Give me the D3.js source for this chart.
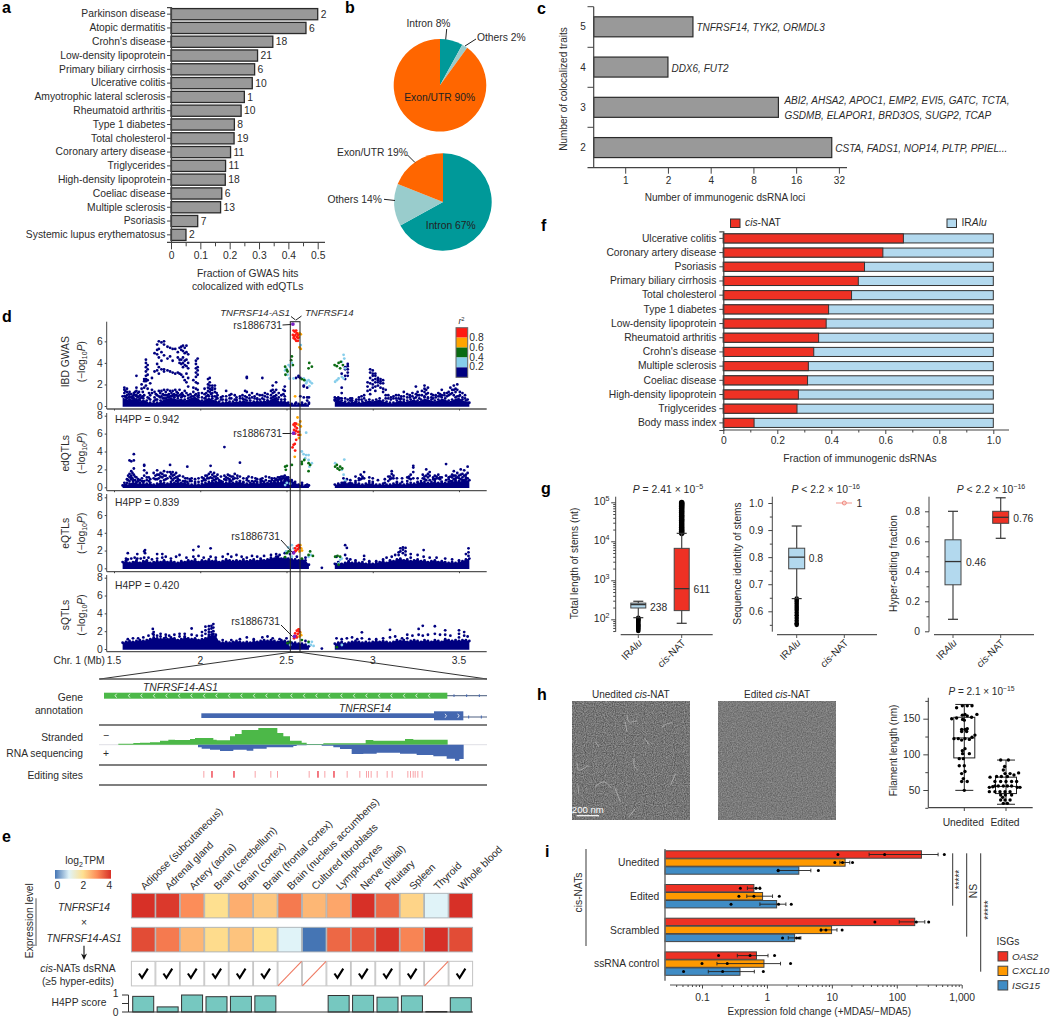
<!DOCTYPE html>
<html>
<head>
<meta charset="utf-8">
<script src="https://cdn.jsdelivr.net/npm/d3@7"></script>
<style>
  html, body { margin: 0; padding: 0; background: #fff; }
  svg { display: block; }
</style>
</head>
<body>
<svg id="chart" width="1050" height="1017" xmlns="http://www.w3.org/2000/svg"></svg>
<script>
// ── panel a ──
const aTraits = ['Parkinson disease', 'Atopic dermatitis', "Crohn's disease", 'Low-density lipoprotein',
  'Primary biliary cirrhosis', 'Ulcerative colitis', 'Amyotrophic lateral sclerosis', 'Rheumatoid arthritis',
  'Type 1 diabetes', 'Total cholesterol', 'Coronary artery disease', 'Triglycerides', 'High-density lipoprotein',
  'Coeliac disease', 'Multiple sclerosis', 'Psoriasis', 'Systemic lupus erythematosus'];
const aFractions = [0.5, 0.46, 0.347, 0.295, 0.285, 0.277, 0.25, 0.239, 0.216, 0.215, 0.203, 0.186, 0.185, 0.173, 0.169, 0.091, 0.051];
const aCounts = [2, 6, 18, 21, 6, 10, 1, 10, 8, 19, 11, 11, 18, 6, 13, 7, 2];

// ── panel b ──
const pieTopValues = [8, 2, 90];
const pieBottomValues = [67, 14, 19];

// ── panel c ──
const cTraits = [5, 4, 3, 2];
const cLoci = [3, 2, 12, 28.5];
const cGenes = [['TNFRSF14, TYK2, ORMDL3'], ['DDX6, FUT2'],
  ['ABI2, AHSA2, APOC1, EMP2, EVI5, GATC, TCTA,', 'GSDMB, ELAPOR1, BRD3OS, SUGP2, TCAP'],
  ['CSTA, FADS1, NOP14, PLTP, PPIEL...']];
const cTicks = [1, 2, 4, 8, 16, 32];

// ── panel f ──
const fTraits = ['Ulcerative colitis', 'Coronary artery disease', 'Psoriasis', 'Primary biliary cirrhosis', 'Total cholesterol',
  'Type 1 diabetes', 'Low-density lipoprotein', 'Rheumatoid arthritis', "Crohn's disease", 'Multiple sclerosis',
  'Coeliac disease', 'High-density lipoprotein', 'Triglycerides', 'Body mass index'];
const fCisNat = [0.667, 0.591, 0.523, 0.5, 0.475, 0.39, 0.381, 0.353, 0.335, 0.315, 0.312, 0.278, 0.273, 0.114];

// ── panel d: bands are the top of the dense cloud, one reading every 0.02 Mb,
//    navy columns are [Mb, [-log10P, ...]], coloured points are [Mb, -log10P, r2 bin] ──
const r2Bins = ['#7b22c4', '#ff1a12', '#ffa500', '#0a6b12', '#87ceeb', '#000080'];
const r2Labels = ['0.8', '0.6', '0.4', '0.2'];
const bandLeftStart = 1.55;
const bandRightStart = 2.78;

const gwasBandLeft = [.9,.8,.6,.7,.9,.5,.7,.5,.3,.4,.3,.5,.7,.8,.9,.8,.7,.8,.6,.7,.9,1,.8,.5,.7,.9,.7,.6,.4,.3,.5,.4,.4,.5,.4,.6,.5,.5,.4,.6,.4,.6,.5,.7,.9,.6,.4,.6,.3,.2,.2,.2,.3,.2,.2];
const gwasBandRight = [.5,.6,.5,.4,.3,.5,.4,.3,.4,.5,.6,.5,.6,.7,.5,.4,.3,.3,.5,.6,.4,.5,.6,.7,.5,.6,.8,.7,.6,.5,.6,.8,.7,.5,.6,.8,.9,.6,.5,.3];
const gwasNavy = [[1.56,[1.7,1.5,1.2,.9]],[1.575,[1.6,1.3,1,.7]],[1.59,[1.3,.9,.6]],[1.6,[1.1,.8,.5]],[1.615,[1.2,1,.7]],[1.63,[2.8,1.7,1.4,1]],[1.645,[1.3,.9,.6]],[1.66,[2,1.6,.8]],[1.675,[2.5,2.3,1.7,1]],[1.685,[4.3,4,3.6,3.2,2.8,2.5,2.3,1.9]],[1.695,[3.8,3.4,2.9,2.4,1.6,.8]],[1.71,[2.1,1,.6]],[1.72,[2.6,1.5,1.2]],[1.735,[4.9,3.2,1.3,.8,.5]],[1.75,[5.7,5.2,4.8,3.9,3.3,1,.6]],[1.76,[6,5.3,4.5,3.6,3,1.4,.9]],[1.775,[5.9,5,4.2,3.4,1.4,.9]],[1.79,[6,5.7,4.7,3.4,3.2,1.5,1]],[1.81,[5.5,4.4,3.3,1.5,1]],[1.825,[5.4,4.6,3.2,1.4,.9]],[1.84,[5.3,4.2,3.1,1.4,1]],[1.855,[5.3,3,1.5,1]],[1.87,[5,4.5,3.1,1.2,.9]],[1.88,[5.4,4.3,4,3,1.5,1]],[1.89,[5.5,5.2,4.3,3.9,2.9,1.1]],[1.9,[5.6,5.1,4.5,4,3.6,2.7,1]],[1.91,[5.4,4.9,4.2,3.8,2.4,1.4,.9]],[1.92,[5.6,5,4.3,3.7,3,2.2,1.2]],[1.93,[4.8,4,3.5,2.6,1.8,1]],[1.96,[2.4,1.7,1.3,.9]],[1.975,[4.2,3.9,3.5,3.1,2.7,2.2,1.6,1.1]],[1.985,[4.4,3.6,3.3,2.9,2.1,1.5,.9]],[2.01,[1.2,.8]],[2.025,[1.6,1.1,.7]],[2.045,[2.5,2,1.7,1.4,1]],[2.055,[2.6,2.2,1.9,1.6,1.3]],[2.07,[1.9,1.7,1.5,1.2,.9]],[2.085,[1.9,1.6,1.3,.9]],[2.1,[1,.7]],[2.13,[.9,.6]],[2.15,[1.4,.9,.6]],[2.18,[1.1,.7]],[2.2,[1,.6]],[2.23,[.9,.7]],[2.26,[1.4,.9,.6]],[2.27,[2.7,2.6,1.3,.8]],[2.3,[1.2,.8]],[2.33,[1.1,.7]],[2.36,[2.6,1,.7]],[2.39,[1.1,.8,.5]],[2.42,[1.9,1.5,1.2,.8]],[2.44,[2.2,1.5,1,.7]],[2.47,[1,.6]],[2.49,[1.8,1.4,.9,.6]],[2.555,[2.6,.3]],[2.57,[2.8,2.7]],[2.58,[2.6,.9]],[2.6,[1.9,1.8,.8]],[2.62,[1.7,.8,.5]],[2.63,[.8,.3]],[2.78,[.8,.6]],[2.8,[.8,.6]],[2.82,[3,1.7,1.2,.7]],[2.84,[3.6,3.4,2.8,2.5,.7]],[2.855,[3.9,3.7,3.4,3.1,2.8,.6]],[2.88,[.7,.5]],[2.92,[.8,.6]],[2.95,[1,.7]],[2.97,[2.2,1.8,1.4]],[2.985,[3.4,3.1,2.6,2.1,1.5,1.1]],[3,[3.3,3,2.8,2.4,2,1.7]],[3.015,[3,2.8,2.5,2.2,1.8,1.4]],[3.03,[2.6,2.4,2.2,1.9]],[3.045,[2.5,2.3,2.1,1.7]],[3.06,[2.4,2.1,1.6,1.3]],[3.075,[1.5,1,.7]],[3.09,[1,.7]],[3.12,[.9,.7]],[3.15,[1,.7]],[3.18,[1.3,.9,.6]],[3.2,[1.1,.8]],[3.23,[1.2,.9]],[3.25,[1.8,1.1,.8]],[3.27,[1,.7]],[3.3,[1.9,1.6,1.3,.9]],[3.32,[1.7,1.2,.8]],[3.35,[1,.7]],[3.38,[1.2,.9]],[3.4,[1.5,1]],[3.43,[1.2,.9]],[3.45,[1.7,1.1]],[3.47,[1.9,1.5,1]],[3.49,[2,1.5,.9]],[3.52,[1.2,.8]],[3.55,[.6,.3]],
  [1.565,[1.4,.9]],[1.585,[1.1,.8]],[1.607,[.9,.7]],[1.622,[1.3,1]],[1.638,[1.2,.8]],[1.652,[1,.7]],[1.667,[1.3,.9]],[1.703,[1.2,.7]],[1.743,[1.1,.6]],[1.768,[1.2,.8]],[1.783,[1.1,.7]],[1.8,[1.3,1,.7]],[1.818,[1.1,.8]],[1.833,[1.2,.9]],[1.848,[1.1,.8]],[1.863,[1.3,1]],[1.895,[1.2,.9]],[1.943,[1.1,.8]],[1.99,[1.2,1]],[2.035,[1.2,.9]],[2.063,[1.5,1.1]],[2.095,[1.2,.8]],[2.12,[.8,.6]],[2.17,[1,.7]],[2.21,[.8,.6]],[2.245,[1,.7]],[2.285,[1,.7]],[2.315,[.9,.7]],[2.345,[1,.6]],[2.375,[1.2,.9]],[2.41,[1.4,1]],[2.43,[1.3,.9]],[2.455,[1.2,.8]],[2.482,[1.5,1.1]],[2.79,[.7,.5]],[2.81,[.7,.4]],[2.87,[.7,.5]],[2.905,[.6,.4]],[2.935,[.9,.6]],[3.105,[.8,.6]],[3.135,[1,.7]],[3.165,[.9,.7]],[3.215,[1,.8]],[3.26,[1.3,1]],[3.285,[1.4,1]],[3.31,[1.5,1.1]],[3.34,[1.1,.8]],[3.365,[1,.8]],[3.39,[1.1,.9]],[3.415,[1.2,1]],[3.44,[1.3,1]],[3.46,[1.5,1.2]],[3.48,[1.6,1.3]],[3.505,[1.3,1]],[3.535,[1,.7]]];
const gwasColored = [[2.537,7.6,0],[2.541,7,1],[2.548,6.9,1],[2.556,7,1],[2.537,6.6,1],[2.544,6.45,1],[2.552,6.6,1],[2.56,6.75,1],[2.568,6.6,1],[2.541,6.3,1],[2.55,6.2,1],[2.56,6.4,1],[2.568,6.3,1],[2.556,6.05,1],[2.566,6.05,1],[2.575,6.75,2],[2.583,6.65,2],[2.572,6.4,2],[2.575,5.45,2],[2.583,5.3,2],[2.55,.9,2],[2.583,5.65,4],[2.498,3.5,4],[2.492,3.3,4],[2.512,3.8,4],[2.531,4,4],[2.521,3.65,4],[2.506,2.9,4],[2.517,2.55,4],[2.541,2.55,4],[2.6,2.55,4],[2.608,2.4,4],[2.618,2.25,4],[2.628,2.4,4],[2.637,2.25,4],[2.647,2.1,4],[2.633,1.85,4],[2.614,2.1,4],[2.831,4.75,4],[2.821,4.1,4],[2.835,4.4,4],[2.792,2.4,4],[2.782,2.25,4],[2.802,2.55,4],[2.821,2.7,4],[2.831,2.55,4],[2.84,3.5,4],[2.531,4.6,3],[2.527,4.25,3],[2.537,3.8,3],[2.492,3.65,3],[2.502,3.35,3],[2.494,2.9,3],[2.506,3.2,3],[2.589,2.5,3],[2.603,2.4,3],[2.632,4,3],[2.647,3.65,3],[2.628,3.5,3],[2.779,3.8,3],[2.792,3.7,3],[2.802,4,3],[2.815,4.1,3],[2.827,3.8,3],[2.811,3.5,3]];

const edBandLeft = [.2,.3,.4,.7,.5,.4,.5,.4,.5,.3,.4,.6,.5,.4,.6,.5,.7,.5,.6,.4,.3,.4,.3,.4,.5,.6,.7,.6,.8,.6,.5,.7,.5,.6,.7,.5,.4,.5,.6,.4,.5,.6,.5,.6,.7,.6,.7,.8,.9,.8,.6,.3,.3,.2,.2];
const edBandRight = [.3,.4,.5,.6,.4,.4,.5,.4,.3,.4,.5,.4,.3,.3,.4,.3,.3,.4,.5,.4,.3,.4,.5,.4,.5,.7,.6,.5,.6,.7,.5,.6,.5,.6,.7,.8,.7,.8,.9,.8];
const edNavy = [[1.56,[.5,.2]],[1.575,[.9,.5]],[1.59,[3,1.5,1.1,.7]],[1.6,[2.9,1.8,1.3,1.1,.9]],[1.615,[3.7,3,2.1,1.4,.8]],[1.63,[1.1,.6]],[1.65,[.8,.5]],[1.675,[2.5,2.4,1.9,1.3,.7]],[1.69,[1.6,1.1,.8]],[1.71,[.9,.5]],[1.73,[1.6,1]],[1.75,[1.9,1.4,.9]],[1.77,[1.6,1.2,.7]],[1.79,[1.8,1.3,.8]],[1.81,[1.7,1]],[1.825,[2.5,1.7,1.2]],[1.84,[1.7,1.3,.8]],[1.86,[1.6,1.1,.7]],[1.88,[1.3,.8]],[1.9,[1.2,.7]],[1.925,[2.3,1,.6]],[1.95,[1,.7]],[1.97,[.9,.6]],[1.99,[1,.6]],[2.01,[1.1,.7]],[2.03,[1.3,.8]],[2.05,[1.5,1]],[2.06,[2.4,1.7,1.1]],[2.08,[1.6,1.2,.8]],[2.1,[1.4,1]],[2.12,[1.2,.7]],[2.14,[4.5,1.3,.9]],[2.16,[1.4,1]],[2.18,[1.2,.7]],[2.2,[1.5,1]],[2.23,[2.75,1.2,.7]],[2.25,[1,.6]],[2.28,[1.2,.7]],[2.3,[1.1,.7]],[2.33,[.9,.6]],[2.36,[1,.7]],[2.38,[1.2,.8]],[2.4,[1.1,.7]],[2.43,[1,.7]],[2.45,[1.1,.8]],[2.47,[1.2,.9]],[2.49,[1.3,1,.7]],[2.51,[1.1,.8]],[2.53,[.5]],[2.59,[.5]],[2.62,[.3]],[2.83,[1,.5]],[2.85,[.9]],[2.87,[.8,.5]],[2.9,[1.2,.7]],[2.93,[1.4,.9]],[2.95,[1.7,1]],[2.98,[1.1,.7]],[3,[1,.6]],[3.03,[.8]],[3.07,[.9,.5]],[3.09,[1.2,.7]],[3.11,[1.8,1.5,1]],[3.14,[1,.6]],[3.17,[1,.6]],[3.2,[1.1,.7]],[3.22,[1.4,.9]],[3.235,[2.4,2.2,1.7,1]],[3.26,[1,.6]],[3.29,[1.4,1]],[3.31,[2,1.3,.8]],[3.33,[1.7,1.3,.8]],[3.36,[1.3,.9]],[3.38,[1.4,1]],[3.4,[1.1,.6]],[3.425,[2.6,1.3,.8]],[3.45,[1.2,.7]],[3.47,[1.8,1.3,.9]],[3.49,[1.6,1.1]],[3.51,[2,1.4,.9]],[3.53,[1.9,1.3,.8]],[3.55,[2.3,1.6,1,.6]],
  [1.582,[1.3,.8]],[1.607,[1.6,1]],[1.622,[1.2,.8]],[1.64,[.9,.7]],[1.662,[1,.7]],[1.702,[1.1,.7]],[1.74,[1.3,.9]],[1.76,[1.4,1]],[1.78,[1.5,1.1]],[1.8,[1.3,.9]],[1.832,[1.5,1]],[1.85,[1.4,1]],[1.87,[1.2,.9]],[1.913,[1,.7]],[1.94,[.9,.7]],[2.02,[1,.8]],[2.04,[1.3,1]],[2.07,[1.4,1]],[2.09,[1.2,.9]],[2.15,[1.1,.8]],[2.17,[1.3,.9]],[2.19,[1.2,.9]],[2.215,[1.3,1]],[2.27,[1,.8]],[2.32,[1,.7]],[2.35,[.9,.7]],[2.415,[1,.8]],[2.44,[.9,.8]],[2.46,[1.1,.9]],[2.48,[1.2,1]],[2.5,[1.1,.9]],[2.92,[1,.8]],[2.94,[1.2,1]],[3.1,[1.2,.9]],[3.12,[1.3,1]],[3.21,[1.2,1]],[3.3,[1.2,.9]],[3.32,[1.5,1.1]],[3.35,[1.1,.9]],[3.37,[1.2,1]],[3.39,[1.1,.9]],[3.44,[1.1,.9]],[3.46,[1.4,1.1]],[3.48,[1.3,1]],[3.5,[1.3,1]],[3.52,[1.5,1.1]],[3.54,[1.4,1.1]]];
const edColored = [[2.541,6.05,0],[2.541,7,1],[2.548,7.15,1],[2.556,7.1,1],[2.55,6.8,1],[2.56,6.6,1],[2.544,6.4,1],[2.554,6.3,1],[2.566,6.2,1],[2.55,6,1],[2.57,5.85,1],[2.541,4.75,1],[2.535,4.45,1],[2.556,5.3,1],[2.55,4.1,1],[2.548,4.85,1],[2.564,7.8,2],[2.58,7.35,2],[2.57,7,2],[2.583,6.8,2],[2.574,6.2,2],[2.58,5.85,2],[2.572,5.5,2],[2.548,3.4,2],[2.614,6.1,4],[2.589,4,4],[2.599,3.7,4],[2.614,3.6,4],[2.628,3.6,4],[2.608,3.25,4],[2.628,3.05,4],[2.647,2.7,4],[2.633,2.3,4],[2.835,3.1,4],[2.782,2.7,4],[2.821,1.95,4],[2.831,1.4,4],[2.84,.8,4],[2.502,.5,4],[2.521,.4,4],[2.492,.25,4],[2.492,2.3,3],[2.502,2.4,3],[2.496,1.95,3],[2.531,2.5,3],[2.589,2.85,3],[2.603,3.05,3],[2.589,2.6,3],[2.628,2.7,3],[2.637,2.5,3],[2.628,1.8,3],[2.782,2.3,3],[2.796,2.1,3],[2.811,2.3,3],[2.823,2.1,3],[2.792,2.5,3],[2.807,1.95,3]];

const eqBandLeft = [.7,.8,.6,.7,.9,.6,.8,.9,.6,.7,.8,.7,.9,.7,.8,.7,.6,.8,.7,.9,.8,1,.7,.9,.8,1,.8,.9,.7,.8,1,.9,.8,.9,.8,1,.8,.9,1,.8,1.1,.9,1,1.2,1.1,1.3,1.1,1.2,1.1,1,1,.9,1,.9,.4];
const eqBandRight = [.5,.7,.5,.6,.8,.6,.7,.6,.7,.5,.6,.5,.6,.7,.8,.6,.9,.8,1,1.1,.9,1,.8,.9,1,.8,.9,.7,.8,.9,.7,.8,.7,.6,.7,.6,.7,.8,1,1.1];
const eqNavy = [[1.57,[1.1,.9]],[1.58,[1.7,1]],[1.6,[1.1]],[1.62,[1.2]],[1.635,[1.6,1.1]],[1.655,[1.1]],[1.675,[1.9,1.2]],[1.68,[2.05,1.7]],[1.7,[1.2]],[1.72,[1]],[1.75,[1.6,1.1]],[1.78,[1.6,1.2]],[1.8,[1.3]],[1.83,[1.1]],[1.86,[1.3]],[1.88,[1.5]],[1.92,[1.2]],[1.96,[2.05,1.3]],[1.99,[2.45,1.4]],[2.02,[1.2]],[2.06,[2.25,1.3]],[2.09,[1.2]],[2.13,[1.3]],[2.16,[1.6]],[2.18,[1.3]],[2.21,[1.5]],[2.24,[1.3]],[2.27,[1.2]],[2.3,[1.4]],[2.33,[1.3]],[2.37,[1.4]],[2.41,[1.5]],[2.44,[1.6,1.3]],[2.46,[1.5]],[2.49,[1.7]],[2.52,[1.6]],[2.56,[1.3]],[2.61,[1.2]],[2.705,[.05]],[2.79,[1.3]],[2.84,[2.6,1.5]],[2.85,[2.3,1.1]],[2.87,[1]],[2.9,[.9]],[2.95,[1.4,1]],[2.98,[.8]],[3.02,[.8]],[3.06,[1]],[3.08,[1.2]],[3.11,[1.3]],[3.13,[1.5]],[3.15,[1.8,1.5]],[3.16,[2.25,1.9]],[3.175,[2.35,2.1,1.7]],[3.19,[2.3,1.9,1.5]],[3.22,[1.6,1.2]],[3.26,[1.5]],[3.295,[2.05,1.3]],[3.33,[1.2]],[3.37,[1.2]],[3.42,[1.1]],[3.46,[1]],[3.5,[.9]],[3.54,[1.6]],[3.555,[2.25,1.8,1.4]]];
const eqColored = [[2.541,1.75,0],[2.55,2.25,1],[2.56,2.5,1],[2.57,2.6,1],[2.556,2,1],[2.566,2.15,1],[2.574,2.35,1],[2.55,1.9,1],[2.58,2.6,2],[2.585,2.25,2],[2.575,1.9,2],[2.59,2,2],[2.531,2.6,4],[2.51,2.35,4],[2.498,1.9,4],[2.521,2.05,4],[2.541,2.25,4],[2.531,1.3,4],[2.628,1.3,4],[2.641,1.5,4],[2.811,.95,4],[2.802,.55,4],[2.821,1.1,4],[2.502,1.7,3],[2.492,1.25,3],[2.512,1.9,3],[2.637,1.9,3],[2.628,1.5,3],[2.653,1.4,3],[2.589,1.1,3],[2.796,1.4,3],[2.811,1.3,3],[2.782,1.3,3],[2.802,.4,3]];

const sqBandLeft = [.7,.8,.9,.8,.9,1,.9,1,1.1,1.3,1.2,1.1,1.2,1.1,1.3,1.2,1,1.1,1.3,1.2,1.1,1.2,1,1.1,1.2,1.4,1.6,1.5,.8,.7,.8,.7,.8,.9,.8,.7,.8,.7,.9,.8,.9,1,.9,1,.9,.8,1,.9,.8,.7,.7,.6,.6,.5,.3];
const sqBandRight = [.6,.7,.8,.6,.7,.8,.9,.8,.7,.8,.7,.8,.9,.8,.9,.8,.7,.8,1,.9,1,.8,.9,1,.9,.8,1,.9,.8,1,.9,.8,1.1,1,.9,1,.9,1,1,.9];
const sqNavy = [[1.58,[1.1]],[1.61,[1.2]],[1.64,[1.2]],[1.67,[1.3]],[1.7,[1.5]],[1.725,[2.25,1.7]],[1.73,[1.9,1.6]],[1.75,[1.5]],[1.77,[1.7,1.4]],[1.8,[1.6,1.3]],[1.82,[1.5]],[1.85,[1.6]],[1.88,[1.7,1.4]],[1.91,[1.7,1.4]],[1.95,[2.3,1.6]],[1.98,[1.5]],[2.01,[1.9,1.5]],[2.03,[2.5,2.1,1.7]],[2.05,[2.55,2.2,1.9,1.6]],[2.065,[2.6,2.3,1.9,1.6]],[2.076,[2.8,2.4,2,1.7]],[2.09,[1.6,1]],[2.13,[1]],[2.18,[1]],[2.23,[1.1]],[2.27,[1.3]],[2.31,[1.1]],[2.36,[1.3]],[2.39,[1.4]],[2.42,[1.2]],[2.46,[1.1]],[2.5,[1.2]],[2.61,[.9]],[2.705,[.05]],[2.79,[1.2]],[2.82,[1.1]],[2.85,[1.2]],[2.88,[1.3]],[2.91,[1.1]],[2.937,[1.87,1.2]],[2.98,[1.1]],[3.02,[1.1]],[3.06,[1.2]],[3.1,[2.15,1.3]],[3.13,[1.4]],[3.17,[1.2]],[3.2,[1.6,1.2]],[3.23,[1.5]],[3.266,[2.25,1.6]],[3.29,[2.6,1.5]],[3.32,[1.6]],[3.36,[2.55,1.7]],[3.39,[1.6]],[3.42,[2.1,1.6]],[3.45,[1.5]],[3.5,[2.1,1.7,1.3]],[3.53,[1.9,1.5]],[3.55,[1.4]]];
const sqColored = [[2.546,1.4,0],[2.55,1.75,1],[2.56,2.05,1],[2.57,2.2,1],[2.556,1.45,1],[2.566,1.7,1],[2.574,1.95,1],[2.544,1.2,1],[2.56,1.3,1],[2.58,1.85,2],[2.585,1.55,2],[2.575,1.4,2],[2.572,2.2,2],[2.506,.65,3],[2.521,.8,3],[2.589,1,3],[2.792,.2,3],[2.628,.8,3],[2.628,.65,4],[2.641,.45,4],[2.657,.35,4],[2.647,.8,4],[2.521,.45,4],[2.821,.45,4]];

// ── panel d: zoomed tracks, in track units (0 to 1164 across the zoom) ──
const gChevrons = [50, 90, 127, 165, 202, 240, 277, 315, 352, 390, 427, 465, 502, 540, 577, 615, 652, 690, 727, 765, 802, 840, 877, 915, 952, 990];
const minusCoverage = [[56,0],[58,3],[83,3],[103,5],[123,6],[153,7],[183,12],[208,15],[228,14],[248,14],[273,17],[288,20],[338,20],[343,15],[353,13],[388,13],[393,25],[408,32],[428,44],[478,50],[533,50],[535,35],[553,25],[573,12],[608,6],[623,2],[673,4],[798,4],[800,14],[823,12],[918,17],[943,15],[1045,15],[1046,0]];
const plusCoverage = [[297,8],[308,12],[333,15],[363,19],[403,15],[443,18],[463,12],[503,8],[583,4],[593,2],[623,1],[668,3],[703,8],[723,13],[758,28],[793,27],[833,24],[903,27],[953,31],[1003,35],[1043,42],[1068,48],[1081,43],[1094,0]];
const editSitesStrong = [337, 403, 655, 703];
const editSitesFaint = [313, 467, 514, 534, 629, 676, 743, 781, 801, 807, 815, 833, 863, 878, 925, 933, 941, 947, 955, 968];

// ── panel e ──
const eTissues = ['Adipose (subcutaneous)', 'Adrenal gland', 'Artery (aorta)', 'Brain (cerebellum)', 'Brain (cortex)',
  'Brain (frontal cortex)', 'Brain (nucleus accumbens)', 'Cultured fibroblasts', 'Lymphocytes', 'Nerve (tibial)',
  'Pituitary', 'Spleen', 'Thyroid', 'Whole blood'];
const eSense = [4, 3.9, 3, 2, 2.6, 2.3, 3.2, 2.5, 2.7, 4, 3.4, 2.15, 1, 4];
const eAntisense = [3.7, 3.2, 2.5, 2.05, 2.35, 2, 1, 0, 3.4, 3.6, 3.95, 3.1, 4, 3.7];
const eHasDsrna = [1, 1, 1, 1, 1, 1, 0, 0, 1, 1, 1, 1, 0, 1];
const eH4pp = [0.92, 0.3, 1, 0.9, 0.92, 0.95, 0, 0, 0.97, 0.98, 0.87, 0.95, 0.03, 0.84];

// ── panel g: whisker low, q1, median, q3, whisker high ──
const gLengthIRAlu = [110, 195, 238, 260, 290];
const gLengthCisNat = [79, 167, 611, 6600, 16000];
const gLengthOutIRAlu = [50, 54, 58, 62, 66, 70, 75, 80, 85, 90, 95, 100, 105, 110];
const gLengthOutCisNat = [16000, 18000, 20000, 23000, 26000, 30000, 34000, 38000, 43000, 48000, 55000, 62000, 70000, 78000, 85000, 92000, 98000];
const gIdentityIRAlu = [0.647, 0.757, 0.8, 0.833, 0.915];
const gIdentityOut = [0.55, 0.556, 0.565, 0.575, 0.585, 0.595, 0.605, 0.612, 0.62, 0.628, 0.635, 0.642, 0.647];
const gHyperIRAlu = [0.08, 0.31, 0.465, 0.61, 0.8];
const gHyperCisNat = [0.62, 0.72, 0.76, 0.8, 0.89];

// ── panel h: [swarm offset (-1 to 1), filament length in nm] ──
const hUnedited = [[-.55,165.4],[-.14,168],[.21,168],[.55,168],[-.9,150],[-.55,151],[-.14,155],[.05,156],[.21,154],[-.12,149],[0,148],[.52,152],[.9,156],[-.19,135],[.05,135],[.21,136],[-.19,132],[.17,132],[-.74,122],[-.43,122],[-.19,120],[.05,122],[.36,121],[.55,124],[.76,127],[.05,108],[-.14,105],[-.12,101],[.36,101],[-.36,94],[-.07,94],[-.36,84],[0,84],[.05,76],[-.19,73],[-.07,66],[-.19,62],[.21,62],[0,49.5]];
const hEdited = [[-.38,92],[.17,92],[-.1,83],[-.19,78],[-.07,73],[.29,73],[-1.14,68],[-.67,69],[-.33,69],[.1,69],[.57,71],[.9,74],[-.79,62],[-.38,62],[0,62],[.4,62],[.76,62],[-.79,55.6],[-.55,55.6],[-.19,55.6],[.1,55.6],[.4,55.6],[-1.19,53.7],[-.95,54.6],[.81,53.7],[1,53.7],[-1.19,47.7],[-.79,47.7],[-.43,47.7],[-.07,47.7],[.29,47.7],[-.38,43],[-.05,43],[.4,43],[-.24,39.7],[-.38,36],[-.07,36],[.29,36],[-.19,31.3],[.1,31.3]];
const hUneditedBox = [49.5, 95, 123, 152, 170];
const hEditedBox = [30, 45, 55, 68, 92];
// filaments on the unedited micrograph, in image units (0 to 352 across)
const hFilaments = [[[165,40],[170,60],[195,57]],[[160,60],[164,90]],[[268,78],[280,68],[300,63]],[[185,170],[188,195],[198,205]],[[217,110],[232,130]],[[295,250],[310,215]],[[16,185],[20,205],[50,190]],[[18,250],[20,275]],[[68,255],[95,240],[118,258]],[[128,258],[145,300]],[[170,345],[190,320]],[[70,120],[80,135]]];

// ── panel i ──
const iGroups = ['Unedited', 'Edited', 'Scrambled', 'ssRNA control'];
const iGenes = ['OAS2', 'CXCL10', 'ISG15'];
const iOAS2 = [240, 0.63, 189, 0.69];
const iCXCL10 = [16, 0.857, 9.9, 0.9];
const iISG15 = [3.1, 1.41, 2.67, 0.385];
const iOAS2Err = [[37.5, 433], [0.5, 0.78], [109, 270], [0.35, 1.04]];
const iCXCL10Err = [[13.3, 18.9], [0.49, 1.22], [6.8, 12], [0.17, 1.62]];
const iISG15Err = [[1.49, 4.75], [0.78, 1.96], [2.13, 3.33], [0.125, 0.64]];
const iOAS2Pts = [[12.4, 65, 540], [0.39, 0.68, 0.78], [46, 200, 310], [0.18, 0.55, 1.31]];
const iCXCL10Pts = [[11.1, 14.6, 20.8], [0.37, 0.63, 1.55], [6.8, 8.1, 14.4], [0.1, 0.245, 2.31]];
const iISG15Pts = [[1.49, 1.49, 6.2], [0.28, 1.51, 2.37], [1.74, 2.86, 3.14], [0.052, 0.208, 0.88]];

// ── shared style ──
const FONT = '"Liberation Sans", Arial, sans-serif';
const INK = '#2b2b2b';
const AXIS = '#444';
const BAR_GRAY = '#999999';
const RED = '#ee3124';
const SKY = '#b3d9ee';
const BLUE = '#3f8cc5';

const svg = d3.select('#chart');
svg.append('rect').attr('width', 1050).attr('height', 1017).attr('fill', '#fff');
const defs = svg.append('defs');

// text with _italic_, ^sup^ and ~sub~ markup
function label(parent, x, y, str, o = {}) {
  const size = o.size || 10.3;
  const t = parent.append('text')
    .attr('font-family', FONT).attr('font-size', size)
    .attr('font-weight', o.weight || 'normal')
    .attr('fill', o.fill || INK)
    .attr('text-anchor', o.anchor || 'start');
  if (o.rotate !== undefined) {
    t.attr('transform', `translate(${x},${y}) rotate(${o.rotate})`).attr('y', size * 0.35);
  } else {
    t.attr('x', x).attr('y', y + size * 0.35);
  }
  let shift = 0;
  String(str).split(/(_[^_]+_|\^[^^]+\^|~[^~]+~)/).filter(s => s).forEach(part => {
    const sp = t.append('tspan');
    const mark = part[0];
    if (mark === '_' && part.length > 2) {
      sp.attr('font-style', 'italic').text(part.slice(1, -1));
      if (shift) { sp.attr('dy', -shift); shift = 0; }
    } else if ((mark === '^' || mark === '~') && part.length > 2) {
      const d = (mark === '^' ? -0.38 : 0.25) * size;
      sp.attr('font-size', size * 0.68).attr('dy', d - shift).text(part.slice(1, -1));
      shift = d;
    } else {
      sp.text(part);
      if (shift) { sp.attr('dy', -shift); shift = 0; }
    }
  });
  if (o.allItalic) t.attr('font-style', 'italic');
  return t;
}

function seg(parent, x1, y1, x2, y2, stroke = AXIS, w = 1) {
  return parent.append('line').attr('x1', x1).attr('y1', y1).attr('x2', x2).attr('y2', y2)
    .attr('stroke', stroke).attr('stroke-width', w);
}

function styleAxis(sel, size = 10.3) {
  sel.select('.domain').attr('stroke', AXIS).attr('stroke-width', 1.2);
  sel.selectAll('.tick line').attr('stroke', AXIS).attr('stroke-width', 1);
  sel.selectAll('.tick text').attr('font-family', FONT).attr('font-size', size).attr('fill', INK);
  return sel;
}

// ── panel letters ──
[['a', 2, 7], ['b', 345, 7], ['c', 537, 8], ['d', 2, 316], ['e', 2, 836], ['f', 541, 225], ['g', 541, 488], ['h', 537, 694], ['i', 545, 851]]
  .forEach(([s, x, y]) => label(svg, x, y, s, { weight: 'bold', size: 16, fill: '#000' }));

// ── a: GWAS hits bars ──
(function () {
  const x = d3.scaleLinear().domain([0, 0.5]).range([171, 317.7]);
  const y = d3.scaleBand().domain(aTraits).range([7.2, 241.8]).paddingInner(0.19).paddingOuter(0.1);
  const g = svg.append('g');
  g.selectAll('rect').data(aTraits).enter().append('rect')
    .attr('x', x(0)).attr('y', d => y(d))
    .attr('width', (d, i) => x(aFractions[i]) - x(0)).attr('height', y.bandwidth())
    .attr('fill', BAR_GRAY).attr('stroke', '#2a2a2a').attr('stroke-width', 1.3);
  const left = d3.axisLeft(y).tickSize(4).tickPadding(1.5);
  g.append('g').attr('transform', `translate(${x(0)},0)`).call(left).call(styleAxis);
  seg(g, x(0), 242.3, 325, 242.3, AXIS, 1.2);
  g.append('g').attr('transform', 'translate(0,242.3)')
    .call(d3.axisBottom(x).tickValues(d3.range(0, 0.51, 0.1)).tickSize(7).tickPadding(2).tickFormat(d => d === 0 ? '0' : d3.format('.1f')(d)))
    .call(styleAxis).call(s => s.select('.domain').remove());
  g.append('g').attr('transform', 'translate(0,242.3)')
    .call(d3.axisBottom(x).tickValues(d3.range(0.05, 0.5, 0.1)).tickSize(4).tickFormat(''))
    .call(styleAxis).call(s => s.select('.domain').remove());
  aTraits.forEach((d, i) => label(g, x(aFractions[i]) + 3, y(d) + y.bandwidth() / 2, aCounts[i]));
  label(g, 247.7, 273.5, 'Fraction of GWAS hits', { anchor: 'middle' });
  label(g, 247.7, 286, 'colocalized with edQTLs', { anchor: 'middle' });
})();

// ── b: pies ──
(function () {
  const colors = ['#009999', '#99cccc', '#ff6600'];
  const pie = d3.pie().sort(null);
  function drawPie(cx, cy, r, vals) {
    const arc = d3.arc().innerRadius(0).outerRadius(r);
    svg.append('g').attr('transform', `translate(${cx},${cy})`)
      .selectAll('path').data(pie(vals)).enter().append('path')
      .attr('d', arc).attr('fill', (d, i) => colors[i]);
  }
  drawPie(440, 85.3, 46.3, pieTopValues);
  drawPie(443, 202, 48.7, pieBottomValues);
  label(svg, 428.5, 23.5, 'Intron 8%', { anchor: 'middle' });
  label(svg, 477, 37, 'Others 2%');
  label(svg, 439.7, 97.5, 'Exon/UTR 90%', { anchor: 'middle', fill: '#222' });
  label(svg, 372.5, 152, 'Exon/UTR 19%', { anchor: 'middle' });
  label(svg, 354.7, 199, 'Others 14%', { anchor: 'middle' });
  label(svg, 450.7, 225.7, 'Intron 67%', { anchor: 'middle', fill: '#222' });
  seg(svg, 446.7, 29, 445.7, 39.5, '#222');
  seg(svg, 465, 46, 476, 39, '#222');
  seg(svg, 407.5, 155, 415, 162.5, '#222');
  seg(svg, 384, 199.3, 395, 200.5, '#222');
})();

// ── c: colocalized traits ──
(function () {
  const x = d3.scaleLog().base(2).domain([0.6, 36.5]).range([593.7, 847]);
  const y = d3.scaleBand().domain(cTraits).range([6.7, 167.7]);
  const g = svg.append('g');
  g.selectAll('rect').data(cTraits).enter().append('rect')
    .attr('x', x.range()[0]).attr('y', d => y(d) + (y.bandwidth() - 20) / 2)
    .attr('width', (d, i) => x(cLoci[i]) - x.range()[0]).attr('height', 20)
    .attr('fill', BAR_GRAY).attr('stroke', '#2a2a2a').attr('stroke-width', 1.2);
  seg(g, 593.7, 6.7, 593.7, 167.7, AXIS, 1.2);
  seg(g, 587.5, 167.7, 847, 167.7, AXIS, 1.2);
  [6.7, 47.3, 87.3, 127.3].forEach(v => seg(g, 587.5, v, 593.7, v));
  g.append('g').attr('transform', 'translate(0,167.7)')
    .call(d3.axisBottom(x).tickValues(cTicks).tickSize(6).tickPadding(3).tickFormat(d3.format('d')))
    .call(styleAxis, 10).call(s => s.select('.domain').remove());
  cTraits.forEach(t => label(g, 583, y(t) + y.bandwidth() / 2, t, { anchor: 'middle', size: 10 }));
  label(g, 725, 197.7, 'Number of immunogenic dsRNA loci', { anchor: 'middle', size: 10 });
  label(g, 563.5, 89, 'Number of colocalized traits', { anchor: 'middle', rotate: -90, size: 10 });
  const geneX = i => x(cLoci[i]) + (i === 2 ? 6 : 3.5);
  cGenes.forEach((lines, i) => {
    const mid = y(cTraits[i]) + y.bandwidth() / 2 + 1;
    lines.forEach((s, j) => label(g, geneX(i), mid + (j - (lines.length - 1) / 2) * 15, s, { size: 10, allItalic: true }));
  });
})();

// ── f: cis-NAT fraction ──
(function () {
  const x = d3.scaleLinear().domain([0, 1]).range([723.3, 993.3]);
  const y = d3.scaleBand().domain(fTraits).range([231.3, 430]).paddingInner(0.36).paddingOuter(0.18);
  const g = svg.append('g');
  g.selectAll('.alu').data(fTraits).enter().append('rect')
    .attr('x', x(0)).attr('y', d => y(d)).attr('width', x(1) - x(0)).attr('height', y.bandwidth())
    .attr('fill', SKY).attr('stroke', '#333').attr('stroke-width', 1);
  g.selectAll('.nat').data(fTraits).enter().append('rect')
    .attr('x', x(0)).attr('y', d => y(d)).attr('width', (d, i) => x(fCisNat[i]) - x(0)).attr('height', y.bandwidth())
    .attr('fill', RED).attr('stroke', '#333').attr('stroke-width', 1);
  g.append('g').attr('transform', `translate(${x(0)},0)`)
    .call(d3.axisLeft(y).tickSize(4).tickPadding(3)).call(styleAxis);
  seg(g, x(0), 430, 1009, 430, AXIS, 1.2);
  g.append('g').attr('transform', 'translate(0,430)')
    .call(d3.axisBottom(x).tickValues(d3.range(0, 1.01, 0.2)).tickSize(4).tickPadding(3).tickFormat(d => d === 0 ? '0' : d3.format('.1f')(d)))
    .call(styleAxis).call(s => s.select('.domain').remove());
  g.append('g').attr('transform', 'translate(0,430)')
    .call(d3.axisBottom(x).tickValues(d3.range(0.1, 1, 0.2)).tickSize(2.5).tickFormat(''))
    .call(styleAxis).call(s => s.select('.domain').remove());
  label(g, 860, 458.5, 'Fraction of immunogenic dsRNAs', { anchor: 'middle' });
  g.append('rect').attr('x', 730.5).attr('y', 219).attr('width', 9.5).attr('height', 8.5).attr('fill', RED).attr('stroke', '#333');
  g.append('rect').attr('x', 947).attr('y', 219).attr('width', 9.5).attr('height', 8.5).attr('fill', SKY).attr('stroke', '#333');
  label(g, 745, 222.5, '_cis_-NAT');
  label(g, 961.5, 222.5, 'IR_Alu_');
})();

// ── d: Manhattan stack ──
(function () {
  const x = d3.scaleLinear().domain([1.5, 3.5]).range([114, 459]);
  const panels = [
    { name: 'IBD GWAS', y0: 406, y8: 319.8, bottom: 409, top: 321.7, ticks: [0, 2, 4, 6], left: gwasBandLeft, right: gwasBandRight, navy: gwasNavy, colored: gwasColored, labelY: 361.7, solid: 0.85 },
    { name: 'edQTLs', y0: 487.3, y8: 415.7, bottom: 490.7, top: 413, ticks: [0, 2, 4, 6, 8], left: edBandLeft, right: edBandRight, navy: edNavy, colored: edColored, labelY: 453.3, h4: 'H4PP = 0.942', h4y: 419.7, solid: 0.9 },
    { name: 'eQTLs', y0: 568.3, y8: 497.3, bottom: 571.7, top: 494, ticks: [0, 2, 4, 6, 8], left: eqBandLeft, right: eqBandRight, navy: eqNavy, colored: eqColored, labelY: 533.3, h4: 'H4PP = 0.839', h4y: 502, solid: 1 },
    { name: 'sQTLs', y0: 649, y8: 577.7, bottom: 651.7, top: 575, ticks: [0, 2, 4, 6, 8], left: sqBandLeft, right: sqBandRight, navy: sqNavy, colored: sqColored, labelY: 615, h4: 'H4PP = 0.420', h4y: 585, solid: 1 }
  ];
  panels.forEach(p => {
    const y = d3.scaleLinear().domain([0, 8]).range([p.y0, p.y8]);
    const g = svg.append('g');
    // dense part near the baseline: a filled envelope with a dot on each reading
    [[bandLeftStart, p.left], [bandRightStart, p.right]].forEach(([start, vals]) => {
      const pts = vals.map((v, i) => [start + i * 0.02, v]);
      const area = d3.area().x(d => x(d[0])).y0(y(0) + 0.8).y1(d => y(d[1] * p.solid));
      g.append('path').attr('d', area(pts)).attr('fill', r2Bins[5]);
      g.selectAll(null).data(pts).enter().append('circle')
        .attr('cx', d => x(d[0])).attr('cy', d => y(d[1])).attr('r', 1.4).attr('fill', r2Bins[5]);
    });
    const dots = p.navy.flatMap(([mb, vals]) => vals.map(v => [mb, v]));
    g.selectAll('.navy').data(dots).enter().append('circle')
      .attr('cx', d => x(d[0])).attr('cy', d => y(d[1])).attr('r', 1.4).attr('fill', r2Bins[5]);
    const colored = p.colored.slice().sort((a, b) => b[2] - a[2]);
    g.selectAll('.hit').data(colored).enter().append('circle')
      .attr('cx', d => x(d[0])).attr('cy', d => y(d[1])).attr('r', d => d[2] === 0 ? 1.9 : 1.4).attr('fill', d => r2Bins[d[2]]);
    // axes
    g.append('g').attr('transform', 'translate(106.7,0)')
      .call(d3.axisLeft(y).tickValues(p.ticks).tickSize(2).tickPadding(2).tickFormat(d3.format('d')))
      .call(styleAxis).call(s => s.select('.domain').remove());
    seg(g, 106.7, p.top, 106.7, p.bottom, AXIS, 1);
    seg(g, 106.7, p.bottom, 486.7, p.bottom, '#555', 1.3);
    g.append('g').attr('transform', `translate(0,${p.bottom})`)
      .call(d3.axisTop(x).tickValues([1.5, 2, 2.5, 3, 3.5]).tickSize(p === panels[3] ? 0 : -1.5).tickFormat(''))
      .call(styleAxis).call(s => s.select('.domain').remove());
    label(g, 65.7, p.labelY, p.name, { anchor: 'middle', rotate: -90 });
    label(g, 81, p.labelY, '(\u2212log~10~_P_)', { anchor: 'middle', rotate: -90 });
    if (p.h4) label(g, 115, p.h4y, p.h4);
  });

  // locus box and gene names
  svg.append('rect').attr('x', 290.3).attr('y', 321.7).attr('width', 9.7).attr('height', 330.6)
    .attr('fill', 'none').attr('stroke', '#222').attr('stroke-width', 1);
  label(svg, 290, 312.5, 'TNFRSF14-AS1', { anchor: 'end', allItalic: true, size: 9.6 });
  label(svg, 305, 312.5, 'TNFRSF14', { allItalic: true, size: 9.6 });
  seg(svg, 291, 316.5, 295.5, 320, '#222');
  seg(svg, 301.5, 316, 296, 320, '#222');

  // rs1886731 callouts
  label(svg, 282, 325.5, 'rs1886731', { anchor: 'end' });
  seg(svg, 282.5, 325, 291, 324.5, '#222');
  label(svg, 282, 433.3, 'rs1886731', { anchor: 'end' });
  seg(svg, 282.5, 433.5, 291.5, 433.5, '#222');
  label(svg, 280, 536, 'rs1886731', { anchor: 'end' });
  seg(svg, 281, 540, 292.5, 552.5, '#222');
  label(svg, 280, 621.3, 'rs1886731', { anchor: 'end' });
  seg(svg, 281, 625, 292.5, 636.5, '#222');

  // r2 legend
  const legY = d3.scaleBand().domain(r2Bins.slice(1)).range([327.7, 377.3]);
  svg.selectAll('.r2').data(r2Bins.slice(1)).enter().append('rect')
    .attr('x', 456).attr('y', d => legY(d)).attr('width', 11.7).attr('height', legY.bandwidth()).attr('fill', d => d);
  svg.append('rect').attr('x', 456).attr('y', 327.7).attr('width', 11.7).attr('height', 49.6)
    .attr('fill', 'none').attr('stroke', '#666').attr('stroke-width', 1);
  r2Labels.forEach((s, i) => label(svg, 469.3, 337.3 + i * 9.8, s));
  label(svg, 461.5, 321.5, '_r_^2^', { anchor: 'middle', size: 8.5 });

  // chromosome axis labels
  [1.5, 2, 2.5, 3, 3.5].forEach(v => label(svg, x(v), 660, v, { anchor: 'middle' }));
  label(svg, 53.5, 660, 'Chr. 1 (Mb)');
  seg(svg, 290.3, 652.3, 100, 679, '#333');
  seg(svg, 300, 652.3, 487, 679, '#333');

  // zoomed tracks
  const tx = d3.scaleLinear().domain([0, 1164]).range([99, 487]);
  const t = svg.append('g');
  [679, 725, 765, 785].forEach(v => seg(t, 99, v, 487, v, '#555', 1.3));
  seg(t, 447, 695.7, 487, 695.7, '#6a7a95', 1.2);
  [1065, 1103, 1141].forEach(v => seg(t, tx(v), 694.3, tx(v), 697, '#4467b0', 1));
  t.append('rect').attr('x', tx(15)).attr('y', 692.7).attr('width', tx(1045) - tx(15)).attr('height', 6).attr('fill', '#4cb848');
  t.selectAll('.chev').data(gChevrons).enter().append('path')
    .attr('d', d => `M${tx(d) + 1},693.7L${tx(d) - 0.6},695.7L${tx(d) + 1},697.7`)
    .attr('fill', 'none').attr('stroke', '#fff').attr('stroke-width', 0.8);
  seg(t, 463, 717, 487, 717, '#6a7a95', 1.2);
  [1109, 1147].forEach(v => seg(t, tx(v), 715.5, tx(v), 718.5, '#4467b0', 1));
  t.append('rect').attr('x', tx(307)).attr('y', 713.3).attr('width', tx(1005) - tx(307)).attr('height', 4.7).attr('fill', '#4467b0');
  t.append('rect').attr('x', tx(1005)).attr('y', 711.3).attr('width', tx(1093) - tx(1005)).attr('height', 9).attr('fill', '#4467b0');
  [1040, 1078].forEach(v => {
    t.append('path').attr('d', `M${tx(v) - 0.6},713.8L${tx(v) + 0.8},715.8L${tx(v) - 0.6},717.8`)
      .attr('fill', 'none').attr('stroke', '#fff').attr('stroke-width', 0.8);
  });
  label(t, 143, 687.3, 'TNFRSF14-AS1', { allItalic: true });
  label(t, 339, 708, 'TNFRSF14', { allItalic: true });
  label(t, 83, 697.7, 'Gene', { anchor: 'end' });
  label(t, 83, 710, 'annotation', { anchor: 'end' });
  label(t, 83, 737, 'Stranded', { anchor: 'end' });
  label(t, 83, 753.7, 'RNA sequencing', { anchor: 'end' });
  label(t, 83, 775, 'Editing sites', { anchor: 'end' });
  label(t, 106, 735, '\u2212', { anchor: 'middle' });
  label(t, 106, 753.7, '+', { anchor: 'middle' });
  const cy = d3.scaleLinear().domain([0, 60]).range([744.7, 724.7]);
  seg(t, 99, 744.7, 487, 744.7, '#d5d5dd', 0.8);
  const covArea = d3.area().curve(d3.curveStepAfter).x(d => tx(d[0])).y0(cy(0));
  t.append('path').attr('d', covArea.y1(d => cy(d[1]))(minusCoverage)).attr('fill', '#4cb848');
  t.append('path').attr('d', covArea.y1(d => cy(-d[1]))(plusCoverage)).attr('fill', '#4467b0');
  t.selectAll('.faint').data(editSitesFaint).enter().append('rect')
    .attr('x', d => tx(d)).attr('y', 771).attr('width', 1).attr('height', 6.7).attr('fill', '#f8a3a8');
  t.selectAll('.strong').data(editSitesStrong).enter().append('rect')
    .attr('x', d => tx(d)).attr('y', 771).attr('width', 1.3).attr('height', 6.7).attr('fill', '#ee3340');
})();

// ── e: expression heat map ──
(function () {
  const x = d3.scaleBand().domain(eTissues).range([131, 473]);
  const color = d3.scaleLinear().domain([0, 1, 2, 3, 4]).range(['#4575b4', '#e0f3f8', '#fee090', '#fc8d59', '#d73027']);
  const g = svg.append('g');
  const pad = 0.4, cellH = 24.6;
  [[893.3, eSense], [927.3, eAntisense]].forEach(([top, vals]) => {
    g.selectAll(null).data(eTissues).enter().append('rect')
      .attr('x', d => x(d) + pad).attr('y', top)
      .attr('width', x.bandwidth() - pad * 2).attr('height', cellH)
      .attr('fill', (d, i) => color(vals[i])).attr('stroke', '#a8b0b5').attr('stroke-width', 0.9);
  });
  g.selectAll(null).data(eTissues).enter().append('rect')
    .attr('x', d => x(d) + pad).attr('y', 961.3)
    .attr('width', x.bandwidth() - pad * 2).attr('height', cellH)
    .attr('fill', '#fff').attr('stroke', '#c4c4c4').attr('stroke-width', 1);
  eTissues.forEach((d, i) => {
    const cx = x(d) + x.bandwidth() / 2;
    if (eHasDsrna[i]) {
      g.append('path').attr('d', `M${cx - 4.2},973.5L${cx - 1.2},977.8L${cx + 4.6},968.6`)
        .attr('fill', 'none').attr('stroke', '#000').attr('stroke-width', 2.1);
    } else {
      seg(g, x(d) + pad, 985.9, x(d) + x.bandwidth() - pad, 961.3, '#ee7a62', 1.1);
    }
    label(g, cx - 1, 888, d, { rotate: -45 });
  });
  const bw = 21;
  const yH = d3.scaleLinear().domain([0, 1]).range([1012, 995]);
  g.selectAll(null).data(eTissues).enter().append('rect')
    .attr('x', d => x(d) + (x.bandwidth() - bw) / 2)
    .attr('y', (d, i) => yH(eH4pp[i])).attr('width', bw)
    .attr('height', (d, i) => yH(0) - yH(eH4pp[i]))
    .attr('fill', '#76c8c0').attr('stroke', '#333').attr('stroke-width', 1)
    .attr('display', (d, i) => eH4pp[i] ? null : 'none');
  seg(g, 128.5, 1012, 473, 1012, '#333', 1);
  seg(g, 128.5, 995, 128.5, 1012, '#333', 1);
  [0, 0.5, 1].forEach(v => seg(g, 122, yH(v), 128.5, yH(v), '#333', 1));
  label(g, 115.5, 993.5, '1', { anchor: 'middle' });
  label(g, 115.5, 1012, '0', { anchor: 'middle' });
  label(g, 79, 1002.3, 'H4PP score', { anchor: 'middle' });
  label(g, 84, 907, 'TNFRSF14', { anchor: 'middle', allItalic: true });
  label(g, 84, 922.7, '\u00d7', { anchor: 'middle' });
  label(g, 84, 938.3, 'TNFRSF14-AS1', { anchor: 'middle', allItalic: true });
  seg(g, 84, 945.7, 84, 957, '#111', 1.1);
  g.append('path').attr('d', 'M81,953.5L84,960L87,953.5L84,955.5Z').attr('fill', '#111');
  label(g, 78, 968.3, '_cis_-NATs dsRNA', { anchor: 'middle' });
  label(g, 78, 981, '(\u22655 hyper-edits)', { anchor: 'middle' });
  label(g, 29, 920.7, 'Expression level', { anchor: 'middle', rotate: -90 });
  seg(g, 36, 898.3, 36, 946, '#555', 1);
  // colour key
  const grad = defs.append('linearGradient').attr('id', 'tpmKey');
  color.domain().forEach(v => grad.append('stop').attr('offset', v / 4).attr('stop-color', color(v)));
  g.append('rect').attr('x', 55).attr('y', 870).attr('width', 56).attr('height', 8.7).attr('fill', 'url(#tpmKey)');
  label(g, 85, 860.5, 'log~2~TPM', { anchor: 'middle' });
  [[57.3, '0'], [83.3, '2'], [109.3, '4']].forEach(([px, s]) => label(g, px, 885.5, s, { anchor: 'middle' }));
})();

// ── g: box plots ──
function boxPlot(g, cx, w, y, s, fill) {
  const [lo, q1, med, q3, hi] = s;
  seg(g, cx, y(lo), cx, y(hi), '#444', 1.2);
  seg(g, cx - 5, y(lo), cx + 5, y(lo), '#333', 1.2);
  seg(g, cx - 5, y(hi), cx + 5, y(hi), '#333', 1.2);
  g.append('rect').attr('x', cx - w / 2).attr('y', y(q3)).attr('width', w).attr('height', y(q1) - y(q3))
    .attr('fill', fill).attr('stroke', '#444').attr('stroke-width', 1);
  seg(g, cx - w / 2, y(med), cx + w / 2, y(med), '#333', 1.3);
}

function boxFrame(g, xAxis, xLeft, xRight, ticks, yLabel, yLabelX, title, titleX) {
  seg(g, xAxis, 496.7, xAxis, 631.7, AXIS, 1);
  seg(g, xLeft, 634.7, xRight, 634.7, '#555', 1.2);
  ticks.forEach(([tx, s]) => {
    seg(g, tx, 634.7, tx, 638, '#555', 1);
    label(g, tx + 2, 641, s, { anchor: 'end', rotate: -45, size: 10 });
  });
  label(g, yLabelX, 563.5, yLabel, { anchor: 'middle', rotate: -90, size: 10.2 });
  label(g, titleX, 489, title, { anchor: 'middle', size: 10.4 });
}

(function () {
  const g = svg.append('g');
  // total length of stems
  const y1 = d3.scaleLog().domain([100, 100000]).range([619.3, 502.3]);
  boxFrame(g, 615.7, 620.7, 712.7, [[638.3, 'IR_Alu_'], [681.7, '_cis_-NAT']], 'Total length of stems (nt)', 574.5, '_P_ = 2.41 \u00d7 10^\u22125^', 668);
  g.append('g').attr('transform', 'translate(615.7,0)')
    .call(d3.axisLeft(y1).tickValues([50, 60, 70, 80, 90, 200, 300, 400, 500, 600, 700, 800, 900, 2000, 3000, 4000, 5000, 6000, 7000, 8000, 9000, 20000, 30000, 40000, 50000, 60000, 70000, 80000, 90000]).tickSize(2.5).tickFormat(''))
    .call(styleAxis).call(s => s.select('.domain').remove());
  g.append('g').attr('transform', 'translate(615.7,0)')
    .call(d3.axisLeft(y1).tickValues([100, 1000, 10000, 100000]).tickSize(4.5).tickFormat(''))
    .call(styleAxis).call(s => s.select('.domain').remove());
  [[100, 2], [1000, 3], [10000, 4], [100000, 5]].forEach(([v, p]) => label(g, 609.5, y1(v) - 1, `10^${p}^`, { anchor: 'end', size: 10.5 }));
  g.selectAll(null).data(gLengthOutIRAlu).enter().append('circle').attr('cx', 638.3).attr('cy', d => y1(d)).attr('r', 2.3).attr('fill', '#000');
  g.selectAll(null).data(gLengthOutCisNat).enter().append('circle').attr('cx', 681.7).attr('cy', d => y1(d)).attr('r', 2.8).attr('fill', '#000');
  boxPlot(g, 638.3, 15, y1, gLengthIRAlu, SKY);
  boxPlot(g, 681.7, 15, y1, gLengthCisNat, RED);
  label(g, 650, 607.7, '238');
  label(g, 693.5, 589.3, '611');

  // sequence identity
  const y2 = d3.scaleLinear().domain([0.6, 1]).range([611.3, 503]);
  boxFrame(g, 772.3, 777, 877, [[796.7, 'IR_Alu_'], [844.3, '_cis_-NAT']], 'Sequence identity of stems', 737, '_P_ < 2.2 \u00d7 10^\u221216^', 825.7);
  g.append('g').attr('transform', 'translate(772.3,0)')
    .call(d3.axisLeft(y2).tickValues([0.6, 0.7, 0.8, 0.9, 1]).tickSize(4).tickPadding(5).tickFormat(d3.format('.1f')))
    .call(styleAxis).call(s => s.select('.domain').remove());
  g.append('g').attr('transform', 'translate(772.3,0)')
    .call(d3.axisLeft(y2).tickValues([0.55, 0.65, 0.75, 0.85, 0.95]).tickSize(2.5).tickFormat(''))
    .call(styleAxis).call(s => s.select('.domain').remove());
  g.selectAll(null).data(gIdentityOut).enter().append('circle').attr('cx', 796.7).attr('cy', d => y2(d)).attr('r', 2.3).attr('fill', '#000');
  boxPlot(g, 796.7, 16, y2, gIdentityIRAlu, SKY);
  seg(g, 836, y2(1), 852, y2(1), '#f4a9a2', 1.2);
  g.append('circle').attr('cx', 844.3).attr('cy', y2(1)).attr('r', 2).attr('fill', '#f9cfc9').attr('stroke', '#ee7a6e').attr('stroke-width', 0.8);
  label(g, 856.5, 503.7, '1');
  label(g, 808.7, 558.7, '0.8');

  // hyper-editing fraction
  const y3 = d3.scaleLinear().domain([0, 0.8]).range([631.3, 511.3]);
  boxFrame(g, 929, 934, 1034, [[953, 'IR_Alu_'], [1000.7, '_cis_-NAT']], 'Hyper-editing fraction', 893.5, '_P_ < 2.2 \u00d7 10^\u221216^', 991);
  g.append('g').attr('transform', 'translate(929,0)')
    .call(d3.axisLeft(y3).tickValues([0, 0.2, 0.4, 0.6, 0.8]).tickSize(4).tickPadding(5).tickFormat(d => d === 0 ? '0' : d3.format('.1f')(d)))
    .call(styleAxis).call(s => s.select('.domain').remove());
  g.append('g').attr('transform', 'translate(929,0)')
    .call(d3.axisLeft(y3).tickValues([0.1, 0.3, 0.5, 0.7]).tickSize(2.5).tickFormat(''))
    .call(styleAxis).call(s => s.select('.domain').remove());
  boxPlot(g, 953, 16, y3, gHyperIRAlu, SKY);
  boxPlot(g, 1000.7, 16, y3, gHyperCisNat, RED);
  label(g, 966, 562.3, '0.46');
  label(g, 1013.3, 518, '0.76');
})();

// ── h: micrographs and filament lengths ──
(function () {
  function grain(id, freq, seed, gain, offset) {
    const f = defs.append('filter').attr('id', id).attr('x', 0).attr('y', 0).attr('width', '100%').attr('height', '100%')
      .attr('color-interpolation-filters', 'sRGB');
    f.append('feTurbulence').attr('type', 'fractalNoise').attr('baseFrequency', freq).attr('numOctaves', 2).attr('seed', seed);
    f.append('feColorMatrix').attr('type', 'matrix').attr('values',
      `${gain} 0 0 0 ${offset} ${gain} 0 0 0 ${offset} ${gain} 0 0 0 ${offset} 0 0 0 0 1`);
  }
  grain('temA', 0.9, 4, 0.42, 0.25);
  grain('temB', 0.8, 9, 0.3, 0.33);
  const imgs = [[572, 'temA', 'Unedited _cis_-NAT'], [718.3, 'temB', 'Edited _cis_-NAT']];
  const size = 117.6;
  imgs.forEach(([px, id, title]) => {
    svg.append('rect').attr('x', px).attr('y', 701.7).attr('width', size).attr('height', size).attr('fill', '#777').attr('filter', `url(#${id})`);
    label(svg, px + size / 2, 694.3, title, { anchor: 'middle', size: 10 });
  });
  const ix = d3.scaleLinear().domain([0, 352]).range([572, 572 + size]);
  const iy = d3.scaleLinear().domain([0, 352]).range([701.7, 701.7 + size]);
  const line = d3.line().x(d => ix(d[0])).y(d => iy(d[1])).curve(d3.curveCatmullRom);
  svg.selectAll('.filament').data(hFilaments).enter().append('path').attr('d', line)
    .attr('fill', 'none').attr('stroke', '#b8b8b8').attr('stroke-width', 0.9).attr('opacity', 0.85);
  seg(svg, 576.7, 815.7, 599, 815.7, '#fff', 1.2);
  label(svg, 587.8, 810, '200 nm', { anchor: 'middle', fill: '#fff', size: 9.6 });

  const g = svg.append('g');
  const y = d3.scaleLinear().domain([50, 150]).range([790, 718.7]);
  seg(g, 928.3, 697.7, 928.3, 807.7, AXIS, 1.1);
  seg(g, 928.3, 807.7, 1032.7, 807.7, AXIS, 1.2);
  g.append('g').attr('transform', 'translate(928.3,0)')
    .call(d3.axisLeft(y).tickValues([50, 100, 150]).tickSize(5).tickPadding(3))
    .call(styleAxis).call(s => s.select('.domain').remove());
  g.append('g').attr('transform', 'translate(928.3,0)')
    .call(d3.axisLeft(y).tickValues([25, 75, 125, 175]).tickSize(3).tickFormat(''))
    .call(styleAxis).call(s => s.select('.domain').remove());
  const xs = [964.3, 1006];
  [[xs[0], hUneditedBox, hUnedited, 'Unedited'], [xs[1], hEditedBox, hEdited, 'Edited']].forEach(([cx, box, pts, name]) => {
    seg(g, cx, y(box[0]), cx, y(box[4]), '#222', 1);
    seg(g, cx - 9, y(box[0]), cx + 9, y(box[0]), '#222', 1);
    seg(g, cx - 9, y(box[4]), cx + 9, y(box[4]), '#222', 1);
    g.append('rect').attr('x', cx - 10.5).attr('y', y(box[3])).attr('width', 21).attr('height', y(box[1]) - y(box[3]))
      .attr('fill', 'none').attr('stroke', '#222').attr('stroke-width', 1);
    seg(g, cx - 10.5, y(box[2]), cx + 10.5, y(box[2]), '#222', 1);
    g.selectAll(null).data(pts).enter().append('circle')
      .attr('cx', d => cx + d[0] * 14).attr('cy', d => y(d[1])).attr('r', 1.7).attr('fill', '#000');
    seg(g, cx, 807.7, cx, 811, AXIS, 1);
    label(g, cx - 1, 822.7, name, { anchor: 'middle' });
  });
  label(g, 893.5, 750.5, 'Filament length (nm)', { anchor: 'middle', rotate: -90, size: 10 });
  label(g, 981.5, 691.5, '_P_ = 2.1 \u00d7 10^\u221215^', { anchor: 'middle', size: 10 });
})();

// ── i: expression fold change ──
(function () {
  const x = d3.scaleLog().domain([0.1, 1000]).range([702, 961.7]);
  const y = d3.scaleBand().domain(iGenes).range([0, 24]);
  const g = svg.append('g');
  const left = 665;
  const sets = [[iOAS2, iOAS2Err, iOAS2Pts, RED], [iCXCL10, iCXCL10Err, iCXCL10Pts, '#ff9900'], [iISG15, iISG15Err, iISG15Pts, BLUE]];
  iGroups.forEach((grp, gi) => {
    const gy = 850.5 + gi * 33.7;
    iGenes.forEach((gene, si) => {
      const [vals, errs, pts, col] = sets[si];
      const by = gy + y(gene);
      g.append('rect').attr('x', left).attr('y', by + 0.3).attr('width', x(vals[gi]) - left).attr('height', y.bandwidth() - 0.6)
        .attr('fill', col).attr('stroke', '#444').attr('stroke-width', 1);
      const my = by + y.bandwidth() / 2;
      const [e0, e1] = errs[gi];
      seg(g, x(e0), my, x(e1), my, '#222', 0.9);
      [e0, e1].forEach(v => seg(g, x(v), my - 1.8, x(v), my + 1.8, '#222', 0.9));
      pts[gi].forEach(v => g.append('circle').attr('cx', x(v)).attr('cy', my).attr('r', 1.5).attr('fill', '#000'));
    });
    label(g, 659.3, gy + 12, grp, { anchor: 'end' });
  });
  seg(g, left, 849, left, 980.7, '#666', 1.4);
  seg(g, 670, 985, 962, 985, '#555', 1.2);
  const minors = [];
  [0.01, 0.1, 1, 10, 100].forEach(d => d3.range(2, 10).forEach(m => { if (d * m >= 0.04 && d * m < 1000) minors.push(d * m); }));
  g.append('g').attr('transform', 'translate(0,985)')
    .call(d3.axisBottom(x).tickValues(minors).tickSize(2).tickFormat(''))
    .call(styleAxis).call(s => s.select('.domain').remove());
  g.append('g').attr('transform', 'translate(0,985)')
    .call(d3.axisBottom(x).tickValues([0.1, 1, 10, 100, 1000]).tickSize(3.5).tickPadding(5).tickFormat(d => d === 1000 ? '1,000' : d))
    .call(styleAxis).call(s => s.select('.domain').remove());
  label(g, 819.3, 1011.7, 'Expression fold change (+MDA5/\u2212MDA5)', { anchor: 'middle', size: 10 });
  label(g, 578, 892.5, 'cis-NATs', { anchor: 'middle', rotate: -90 });
  seg(g, 586, 849, 586, 946, '#666', 1.3);
  seg(g, 952.7, 853.3, 952.7, 905.7, '#333', 1);
  seg(g, 966.7, 853.3, 966.7, 936.7, '#333', 1);
  seg(g, 980.7, 853.3, 980.7, 971.7, '#333', 1);
  label(g, 959, 879.5, '*****', { anchor: 'middle', rotate: -90, size: 10 });
  label(g, 973.5, 891, 'NS', { anchor: 'middle', rotate: -90 });
  label(g, 988, 910, '*****', { anchor: 'middle', rotate: -90, size: 10 });
  label(g, 996.5, 941, 'ISGs');
  iGenes.forEach((gene, i) => {
    const top = 951.7 + i * 14.5;
    g.append('rect').attr('x', 998).attr('y', top).attr('width', 9.7).attr('height', 9.3)
      .attr('fill', sets[i][3]).attr('stroke', '#444').attr('stroke-width', 1);
    label(g, 1012, top + 4.7, gene, { allItalic: true, size: 9.9 });
  });
})();
</script>
</body>
</html>
